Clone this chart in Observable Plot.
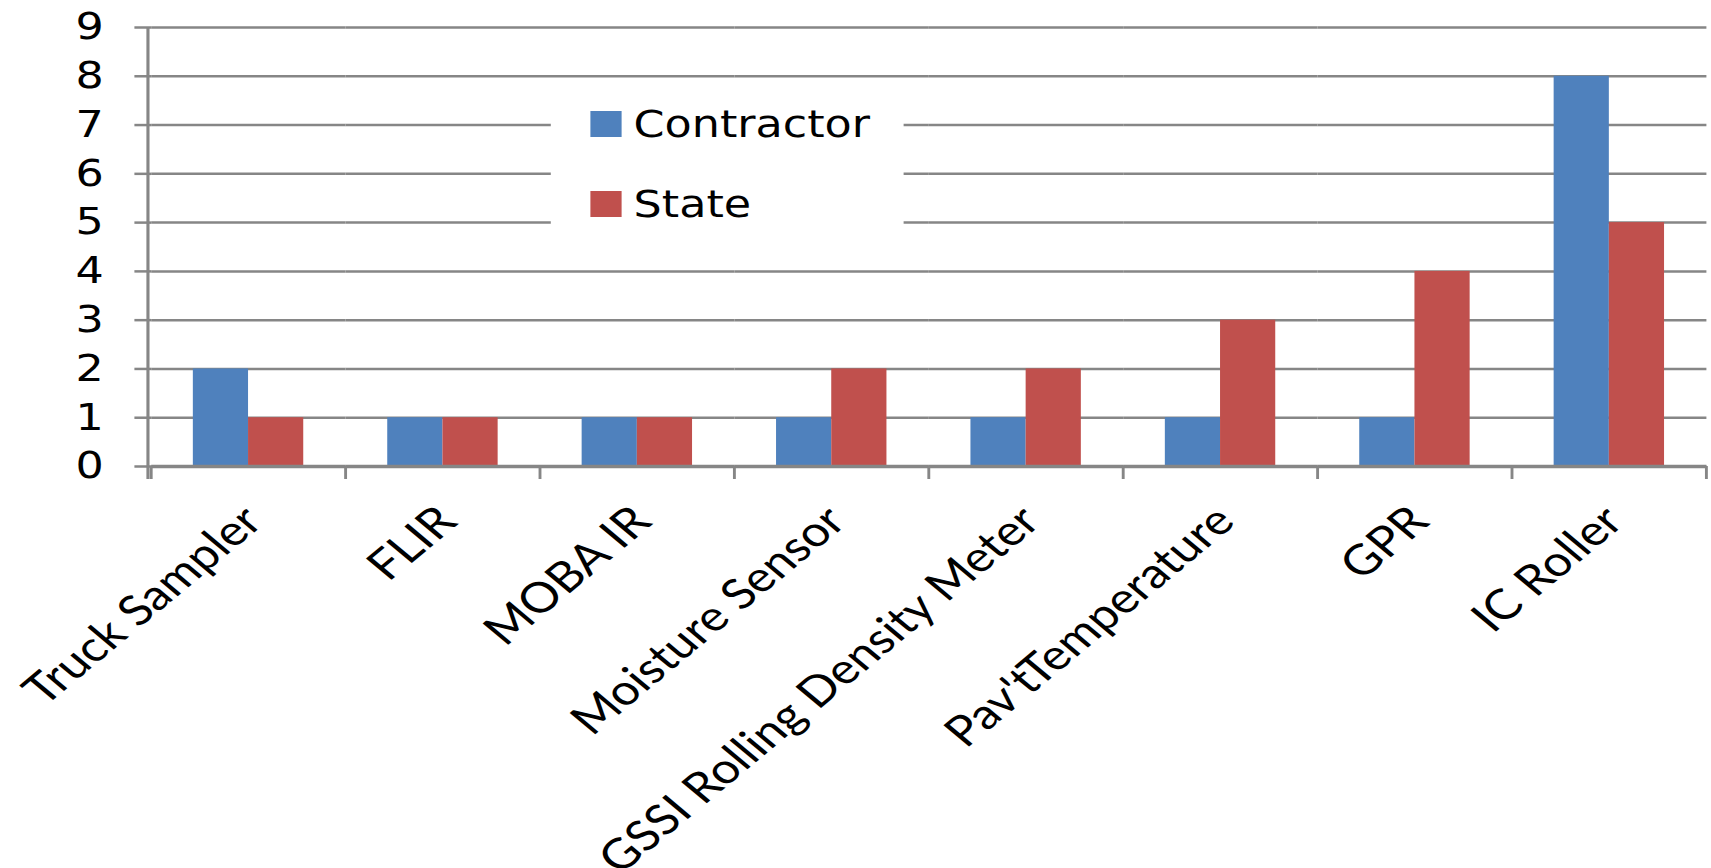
<!DOCTYPE html>
<html><head><meta charset="utf-8">
<script src="https://cdn.jsdelivr.net/npm/d3@7"></script>
<script src="https://cdn.jsdelivr.net/npm/@observablehq/plot@0.6"></script>
<style>html,body{margin:0;padding:0;background:#fff;} #chart svg{display:block;}</style>
</head><body><div id="chart"></div>
<script>
const categories = ["Truck Sampler","FLIR","MOBA IR","Moisture Sensor","GSSI Rolling Density Meter","Pav'tTemperature","GPR","IC Roller"];
const series = ["Contractor","State"];
const contractor = [2,1,1,1,1,1,1,8];
const state = [1,1,1,2,2,3,4,5];
const yTicks = [0,1,2,3,4,5,6,7,8,9];
const colors = ["#4F81BD","#C0504D"];

const data = categories.flatMap((c, i) => [
  {category: c, series: series[0], value: contractor[i]},
  {category: c, series: series[1], value: state[i]}
]);

const SX = 1.2, W_OUT = 1711, H = 868, W = W_OUT / SX;
const grey = "#868686";

const plot = Plot.plot({
  width: W, height: H,
  marginLeft: 123.3, marginRight: 1, marginTop: 27, marginBottom: 402,
  style: {background: "white", color: "black", fontFamily: "DejaVu Sans"},
  fx: {domain: categories, paddingInner: 0, paddingOuter: 0, axis: null, label: null},
  x: {domain: series, paddingInner: 0, paddingOuter: 0.75, axis: null, label: null},
  y: {domain: [0, 9], axis: null, label: null},
  color: {domain: series, range: colors},
  marks: [
    Plot.gridY(yTicks, {stroke: grey, strokeOpacity: 1, strokeWidth: 2.5}),
    Plot.axisY(yTicks, {tickSize: 14, tickPadding: 26, fontSize: 37, stroke: grey, strokeWidth: 2.5, fill: "black", label: null, tickFormat: d => String(d)}),
    Plot.barY(data, {fx: "category", x: "series", y: "value", fill: "series"}),
    Plot.ruleY([0], {stroke: grey, strokeWidth: 3.5}),
    Plot.text(categories, {fx: d => d, text: d => d, frameAnchor: "bottom", rotate: -45, textAnchor: "end", lineAnchor: "top", fontSize: 42, fontFamily: "Lato", fill: "black", dx: -8, dy: 36})
  ]
});

const svg = plot;
svg.setAttribute("width", W_OUT);
svg.setAttribute("preserveAspectRatio", "none");
svg.style.width = W_OUT + "px";
svg.style.height = H + "px";
svg.style.maxWidth = "none";

const fxs = plot.scale("fx"), ys = plot.scale("y");
const [r0, r1] = fxs.range;
const bw = fxs.bandwidth ?? (r1 - r0) / categories.length;
const bounds = categories.map(c => fxs.apply(c)).concat([fxs.apply(categories[categories.length - 1]) + bw]);
const y0 = ys.apply(0), yTop = ys.apply(9);
const g = d3.select(svg).append("g");
g.append("line").attr("x1", r0).attr("x2", r0).attr("y1", yTop).attr("y2", y0 + 13)
  .attr("stroke", grey).attr("stroke-width", 2.6);
g.selectAll(".bt").data(bounds).join("line")
  .attr("x1", d => d).attr("x2", d => d).attr("y1", y0).attr("y2", y0 + 13)
  .attr("stroke", grey).attr("stroke-width", 2.4);

// legend
const lg = d3.select(svg).append("g").attr("font-family", "DejaVu Sans").attr("font-size", 37).attr("text-anchor", "start");
lg.append("rect").attr("x", 459).attr("y", 92).attr("width", 294).attr("height", 140).attr("fill", "white");
series.forEach((s, i) => {
  lg.append("rect").attr("x", 492).attr("y", 111 + i * 80).attr("width", 26).attr("height", 26).attr("fill", colors[i]);
  lg.append("text").attr("x", 528).attr("y", 137 + i * 80).attr("fill", "black").attr("text-anchor", "start").text(s);
});

document.getElementById("chart").appendChild(svg);
</script>
</body></html>
